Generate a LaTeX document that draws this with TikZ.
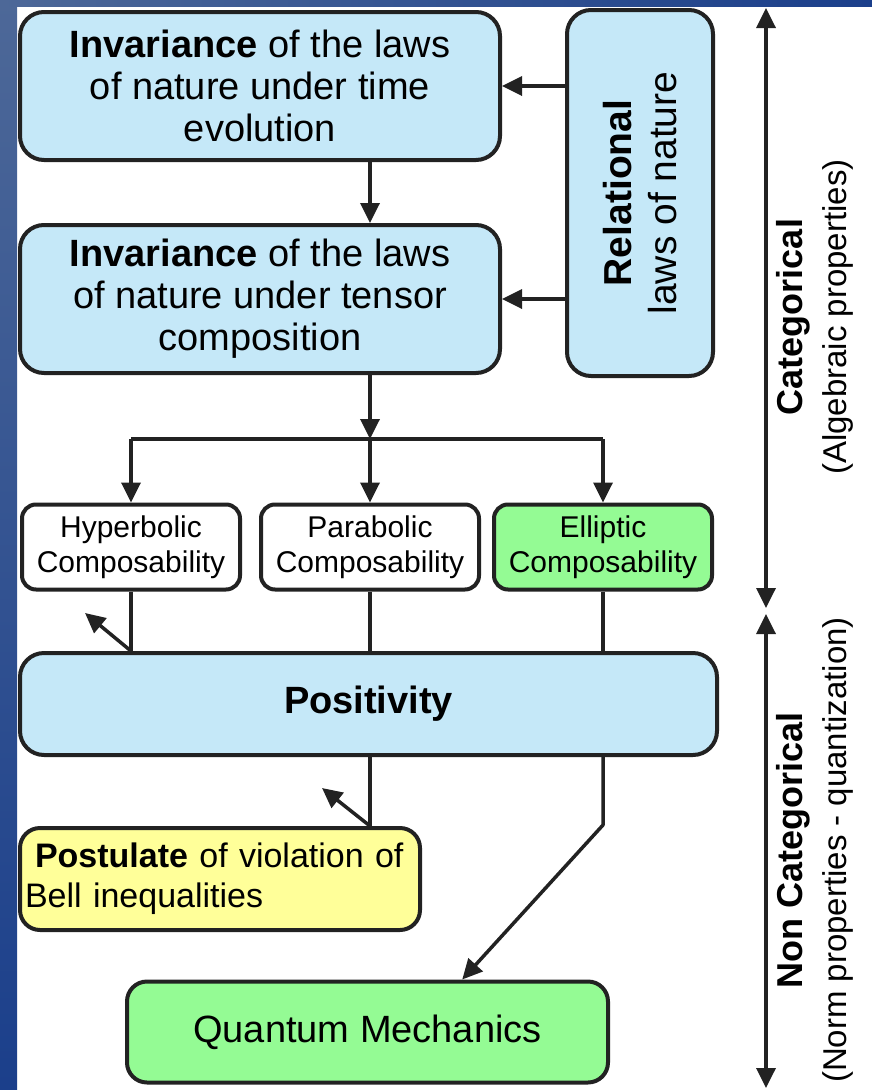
\documentclass[tikz,border=0pt]{standalone}
\usepackage{fontspec}
\setmainfont{Liberation Sans}
\usetikzlibrary{arrows.meta}
\definecolor{boxblue}{HTML}{C5E8F8}
\definecolor{boxgreen}{HTML}{94FB94}
\definecolor{boxyellow}{HTML}{FFFF99}
\definecolor{edge}{HTML}{222222}
\definecolor{bgtop}{HTML}{4D6898}
\definecolor{bgbot}{HTML}{1B3F8B}
\begin{document}
\begin{tikzpicture}[x=1pt, y=-1pt, line join=round, >={Triangle[length=20pt,width=19pt]},
  big/.style={draw=edge, line width=4pt, rounded corners=24pt, align=center, inner sep=0pt, font=\fontsize{38}{42}\selectfont},
  small/.style={draw=edge, line width=4pt, rounded corners=14pt, align=center, inner sep=0pt, minimum width=218pt, minimum height=85pt, font=\fontsize{30}{35}\selectfont},
  link/.style={draw=edge, line width=3.5pt},
  side/.style={rotate=90, align=center, font=\fontsize{33}{44}\selectfont}]
\useasboundingbox (0,0) rectangle (872,1090);
% slide background
\shade[top color=bgtop, bottom color=bgbot] (0,0) rectangle (17,1090);
\shade[left color=bgtop, right color=bgbot] (0,0) rectangle (872,6);
% boxes
\node[big, fill=boxblue, minimum width=480pt, minimum height=148pt] (timeinv) at (260,86)
  {\textbf{Invariance} of the laws\\of nature under time\\evolution};
\node[big, fill=boxblue, minimum width=480pt, minimum height=148pt] (tensinv) at (260,299)
  {\textbf{Invariance} of the laws\\of nature under tensor\\composition};
\node[big, fill=boxblue, rotate=90, minimum width=366pt, minimum height=146pt,
  font=\fontsize{39}{45}\selectfont] (relat) at (640,193) {\textbf{Relational}\\laws of nature};
\node[small] (hyp) at (131,547) {Hyperbolic\\Composability};
\node[small] (par) at (370,547) {Parabolic\\Composability};
\node[small, fill=boxgreen] (ell) at (603,547) {Elliptic\\Composability};
\node[big, fill=boxblue, minimum width=697pt, minimum height=102pt] (pos) at (368.5,704) {\textbf{Positivity}};
\node[big, fill=boxyellow, minimum width=400pt, minimum height=102pt, rounded corners=20pt,
  text width=390pt, align=left, font=\fontsize{34}{40}\selectfont] (post) at (220,879)
  {\hspace*{10pt}\textbf{Postulate} of violation of\\Bell inequalities};
\node[big, fill=boxgreen, minimum width=481pt, minimum height=101pt, rounded corners=20pt] (qm) at (367.5,1032)
  {Quantum Mechanics};
% connectors
\draw[link,->] (relat.north |- timeinv.east) -- (timeinv.east);
\draw[link,->] (relat.north |- tensinv.east) -- (tensinv.east);
\draw[link,->] (timeinv.south -| par) -- (tensinv.north -| par);
\coordinate (split) at (370,439);
\draw[link,->] (tensinv.south -| par) -- (split);
\draw[link] (split -| hyp) -- (split -| ell);
\foreach \n in {hyp,par,ell}
  {\draw[link,->] (split -| \n) -- (\n.north);
   \draw[link] (\n.south) -- (\n.south |- pos.north);}
\coordinate (hypback) at (85,613);
\draw[link,->] (hyp.south |- pos.north) -- (hypback);
\draw[link] (pos.south -| par) -- (post.north -| par);
\coordinate (postback) at (322,788);
\draw[link,->] (post.north -| par) -- (postback);
\coordinate (bend) at (603,825);
\draw[link,->] (pos.south -| ell) -- (bend) -- (qm.29);
% categorical / non categorical
\coordinate (cattop) at (766,8);
\coordinate (catbot) at (766,608);
\coordinate (ncattop) at (766,614);
\coordinate (ncatbot) at (766,1088);
\draw[link,<->] (cattop) -- (catbot);
\draw[link,<->] (ncattop) -- (ncatbot);
\node[side] (catlab) at (815,317) {{\fontsize{36}{44}\selectfont\textbf{Categorical}}\\(Algebraic properties)};
\node[side] (ncatlab) at (815,850) {{\fontsize{36}{44}\selectfont\textbf{Non Categorical}}\\(Norm properties - quantization)};
\end{tikzpicture}
\end{document}
